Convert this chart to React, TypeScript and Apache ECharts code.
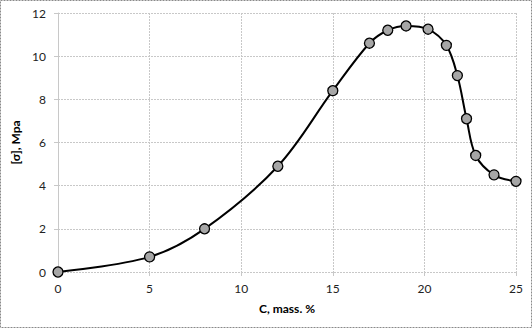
import React, { useEffect, useRef } from "react";
import * as echarts from "echarts";

const xValues = [0, 5, 8, 12, 15, 17, 18, 19, 20.2, 21.2, 21.8, 22.3, 22.8, 23.8, 25];
const yValues = [0, 0.7, 2.0, 4.9, 8.4, 10.6, 11.2, 11.4, 11.25, 10.5, 9.1, 7.1, 5.4, 4.5, 4.2];
const xTitle = "C, mass. %";
const yTitle = "[σ], Mpa";

export default function App() {
  const ref = useRef<HTMLDivElement>(null);
  useEffect(() => {
    if (!ref.current) return;
    const chart = echarts.init(ref.current, null, { renderer: "svg" });
    const font = "Lato, 'Open Sans', sans-serif";
    const grid = { color: "#c8c8c8", type: [2, 1] as any, width: 1 };
    chart.setOption({
      animation: false,
      backgroundColor: "#ffffff",
      textStyle: { fontFamily: font },
      grid: { left: 58, right: 16, top: 13, bottom: 57, containLabel: false },
      graphic: [
        {
          type: "rect",
          shape: { x: 0.5, y: 0.5, width: 531, height: 327 },
          style: { fill: "none", stroke: "#8a8a8a", lineWidth: 1, lineDash: [2, 1] },
          silent: true,
        },
      ],
      xAxis: {
        type: "value",
        min: 0,
        max: 25,
        interval: 5,
        name: xTitle,
        nameLocation: "middle",
        nameGap: 30,
        nameTextStyle: { fontFamily: font, fontWeight: "bold", fontSize: 12, color: "#000" },
        axisLine: { show: false },
        axisTick: { show: true, length: 4, lineStyle: { color: "#c8c8c8" } },
        axisLabel: { color: "#222", fontSize: 12, margin: 10, fontFamily: font },
        splitLine: { show: true, lineStyle: grid },
      },
      yAxis: {
        type: "value",
        min: 0,
        max: 12,
        interval: 2,
        name: yTitle,
        nameLocation: "middle",
        nameGap: 32,
        nameRotate: 90,
        nameTextStyle: { fontFamily: font, fontWeight: "bold", fontSize: 12, color: "#000" },
        axisLine: { show: true, lineStyle: grid },
        axisTick: { show: true, length: 4, lineStyle: { color: "#c8c8c8" } },
        axisLabel: { color: "#222", fontSize: 12, margin: 12, fontFamily: font },
        splitLine: { show: true, lineStyle: grid },
      },
      series: [
        {
          type: "line",
          data: xValues.map((x, i) => [x, yValues[i]]),
          smooth: 0.35,
          symbol: "circle",
          symbolSize: 10,
          lineStyle: { color: "#000", width: 2 },
          itemStyle: { color: "#a6a6a6", borderColor: "#000", borderWidth: 1.3 },
        },
      ],
    });
    return () => chart.dispose();
  }, []);
  return (
    <div
      ref={ref}
      style={{ position: "fixed", left: 0, top: 0, width: 532, height: 329 }}
    />
  );
}
